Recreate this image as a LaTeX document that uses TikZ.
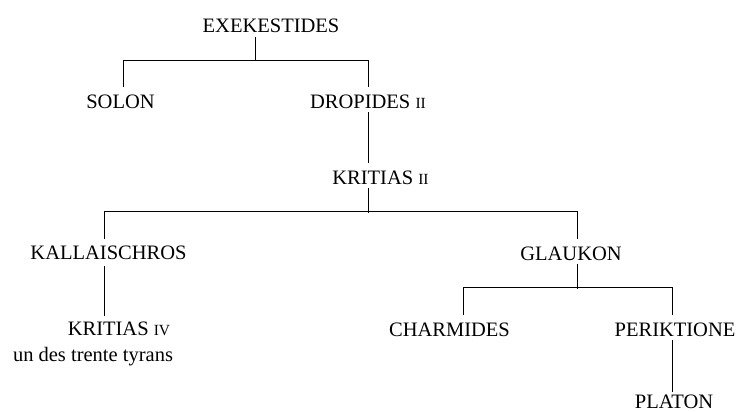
\documentclass[tikz,border=0pt]{standalone}
\usepackage{fontspec}
\setmainfont{Liberation Serif}
\newcommand{\smallnum}[1]{{\fontsize{15.5}{18}\selectfont #1}}
\tikzset{
  lbl/.style={inner sep=0pt, anchor=base, font=\fontsize{20.5}{24}\selectfont},
  ln/.style={line width=0.8pt, black}
}
\begin{document}
\begin{tikzpicture}[x=1pt,y=-1pt]
\useasboundingbox (0,0) rectangle (739,412);
% persons
\node[lbl] (exe)   at (271,33)    {EXEKESTIDES};
\node[lbl] (solon) at (120.5,108) {SOLON};
\node[lbl] (drop)  at (368,108)   {DROPIDES \smallnum{II}};
\node[lbl] (krit2) at (380.5,184) {KRITIAS \smallnum{II}};
\node[lbl] (kall)  at (108.5,259.5) {KALLAISCHROS};
\node[lbl] (glau)  at (571,260.5) {GLAUKON};
\node[lbl] (krit4) at (119,335.5) {KRITIAS \smallnum{IV}};
\node[lbl] (tyr)   at (93,361)    {un des trente tyrans};
\node[lbl] (charm) at (449.5,336) {CHARMIDES};
\node[lbl] (perik) at (675,336)   {PERIKTIONE};
\node[lbl] (plat)  at (674,408.5) {PLATON};
% junctions
\coordinate (b1m) at (255,60);  \coordinate (b1l) at (123,60);  \coordinate (b1r) at (368,60);
\coordinate (b2m) at (368,211); \coordinate (b2l) at (104,211); \coordinate (b2r) at (577,211);
\coordinate (b3m) at (577,287); \coordinate (b3l) at (463,287); \coordinate (b3r) at (672,287);
% connectors
\draw[ln] (b1l) -- (b1r);
\draw[ln] ([yshift=-4pt]exe.south -| b1m) -- (b1m);
\draw[ln] (b1l) -- ([yshift=7pt]solon.north -| b1l);
\draw[ln] (b1r) -- ([yshift=7pt]drop.north -| b1r);
\draw[ln] ([yshift=-4pt]drop.south -| b1r) -- ([yshift=7pt]krit2.north -| b1r);
\draw[ln] ([yshift=-4pt]krit2.south -| b2m) -- ([yshift=-2pt]b2m);
\draw[ln] (b2l) -- (b2r);
\draw[ln] (b2l) -- ([yshift=7pt]kall.north -| b2l);
\draw[ln] (b2r) -- ([yshift=8pt]glau.north -| b2r);
\draw[ln] ([yshift=-6pt]kall.south -| b2l) -- ([yshift=6pt]krit4.north -| b2l);
\draw[ln] ([yshift=-3pt]glau.south -| b3m) -- ([yshift=-2pt]b3m);
\draw[ln] (b3l) -- (b3r);
\draw[ln] (b3l) -- ([yshift=7pt]charm.north -| b3l);
\draw[ln] (b3r) -- ([yshift=7pt]perik.north -| b3r);
\draw[ln] ([yshift=-4pt]perik.south -| b3r) -- ([yshift=3pt]plat.north -| b3r);
\end{tikzpicture}
\end{document}
